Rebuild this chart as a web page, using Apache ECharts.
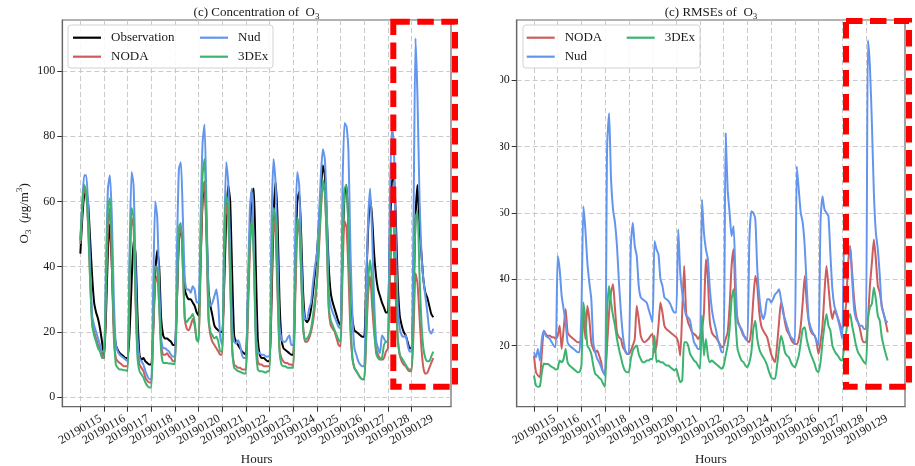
<!DOCTYPE html>
<html><head><meta charset="utf-8">
<script src="https://cdn.jsdelivr.net/npm/echarts@6/dist/echarts.min.js"></script>
<style>html,body{margin:0;padding:0;background:#fff}#c{width:915px;height:466px}</style>
</head><body><div id="c"></div>
<script>
// ---------- data (2-hourly samples, hour 0 = 2019-01-15 00h) ----------
const dayLabels = ['20190115','20190116','20190117','20190118','20190119','20190120','20190121','20190122','20190123','20190124','20190125','20190126','20190127','20190128','20190129'];
const hours = Array.from({length: 180}, (_, i) => i * 2);
const yTicksConc = [0, 20, 40, 60, 80, 100];
const yTicksRmse = [20, 40, 60, 80, 100];

// Concentration of O3
const obsConc = [
44,55,62,63,59,48,37,29,26,24,21,17,
12,25,45,53,40,22,16,14.5,13.5,13,12.5,12,
12,20,35,48,44,25,13,11.5,12,11,10.5,10,
10,22,38,45,40,24,19,18,18,17.5,17,16,
16,30,48,52,45,33,31,30,30,29,28,26,
25,42,60,66,52,33,28,25,22,21,20.5,20,
20,35,55,65,60,38,19,17,16,15,14,13.5,
13,30,50,63,64,40,18,13,12,12,11.5,11,
11,30,55,66,55,30,18,15,14.5,14,13.5,13,
13,35,60,63,50,32,24,23,24,27,32,38,
44,53,63,71,68,55,40,32,29,27,25,23,
22,45,62,65,52,32,24,20.5,20,19.5,19,18.5,
18.5,35,52,61,55,44,37,33,31,29,27.5,26,
26,50,66,68,55,35,25,22,20,19,17,15,
15,32,55,65,52,44,36,32,30.5,28,25.5,24.5];
const nodaConc = [
47,58,64,62,52,36,23,20,18,16,15,13,
12,30,52,58,40,18,12,11,10.5,10,9.5,9.5,
9.5,35,55,52,30,14,10,9,8,6,5,4.5,
4.5,20,35,37,28,16,13,13,13.5,12.5,12,11,
11,30,50,52,40,24,21,20.5,22,24,22,18,
17,40,62,66,48,24,19,17,16,15,14,13,
13,40,59,55,35,15,10,9.5,9,9,8.5,8.5,
8.5,25,45,55,45,20,11,10,10,9.5,9.5,9.5,
9.5,35,54,50,32,15,12,11,10.5,10.5,10,10,
9.5,30,50,53,38,22,17,17,18,20,23,28,
35,45,57,65,63,48,27,22,21,20,18,16,
15.5,38,54,52,38,20,12,9,8,7,6,5.5,
5.5,18,32,37,28,20,15,13,12,11.5,12,14,
15,35,48,45,30,18,13,11,10,9.5,8.5,8,
8,20,38,35,25,15,9,7.2,7.5,9,10.5,12];
const nudConc = [
48,60,68,68,58,40,25,22,20,18,16,14,
14,40,64,68,55,30,16,14,13,12.5,12,11.5,
11,45,69,65,40,18,12,11,10,8,6.5,5.5,
5.5,35,60,55,35,18,15,15,14.5,14,13,12.5,
12.5,45,70,72,55,36,33,33,32,34,33,29,
29,55,78,83.6,58,32,28,29,31,33,28,18,
16,50,72,66,45,22,17,16.5,17.5,16,13,12,
12,35,58,64,45,20,14,13.5,13,13,12.5,12.5,
12.5,55,73,66,45,22,18,17,17,18,19,16,
16,50,69,65,45,28,24,24,27,29,35,40,
44,55,68,76,73,58,32,28,26,24.5,23,21.5,
21,65,84,83,75,45,25,15,13,11,10,9.5,
9.5,35,55,64,50,30,17.5,15,13.5,19,18,17,
17,60,83,78,50,28,21,19,18.5,19,16,14,
14,55,110,92,62,44,36,31,26,20.5,19.5,21];
const dexConc = [
48,59,65,63,52,35,22,19,17,15,14,12,
12,35,58,61,45,20,10,9,8.5,8.5,8.3,8.3,
8,40,58,55,30,12,8,7,6,4.5,3.5,3,
3,22,40,40,28,14,10.5,10.5,10.5,10.3,10.3,10.2,
10.2,30,52,53.5,40,24,23,24,24.5,25.5,23,17.5,
17,45,68,73,52,25,20,19,18,18.5,17,14,
14,50,62,58,38,15,9,8.5,8,7.8,7.5,7.3,
7.3,30,48,54,42,16,8.5,8,8,7.8,7.5,8,
8,40,58,55,35,14,10,9.5,9.5,9,9,9,
9,35,55,53,38,21,17.5,18,19,21,25,30,
36,47,59,66.5,63,48,28,23.5,22,20.5,19,17.5,
17,45,64,65,50,25,12,9,8,7,6,5.5,
5.5,20,36,42,35,22,13.5,12,11.5,12,16,17,
17,40,55,52,35,18,13,12,11,10,9,8.5,
8.5,25,55,57,38,23,15,12,11,11,12.5,14];

// RMSEs of O3
const nodaRmse = [
17,12,11,10.5,18,24.5,23.5,23,23,22.5,22.5,22,
23,26,19,25,31,24,23,22.5,22,21.5,21,21,
21,30,22,32,28,21,19,18,18.5,17,15,12,
12,20,30,36,38.5,31,24,22.5,22,19.5,18.5,17.5,
17.5,18.5,20,22,32,28,23,21.5,21,21.5,22,23,
23.5,18,20,26,33,30,26,25,24.5,24,23.5,23,
22.5,21,17,30,44,30,27,25.5,24,23.5,23,22,
23,25,30,46,40,27,24,23,22.5,21.5,20.5,19.5,
20,22,24,32,44,49,33,28,26,24.5,23,22.5,
21.5,21,25,34,41,38,30,26,24.5,23.5,22.5,20,
17.5,16,15,20,27,33,31,27,24.5,23.5,22,21,
20.5,20.5,22,26,33,41,33,27.5,24.5,23.5,23,21,
17.5,21,26,36,44,38,31.5,28,30.5,29.5,28,26,
25,28,33,45,50,42,34,29,27,25,22,21,
21,28,38,45,52,46,38,36,32,29.5,27,24];
const nudRmse = [
18,16.5,19,15.5,22,24.5,23,22.5,22,21,20,19.5,
47,43,35,31,27,21,20,19.5,19,18.5,18,18,
30,62,55,45,39,34,21,18,16,15,13.5,12,
11,80,90,70,61,57,50,39,30,23,19,17.6,
17.6,50,57,50,47,38,34.5,34,33.5,33,31,29,
27,51.5,49,47.5,40,38,34.5,34,33.5,32.5,31,30,
30,55,42,36,32,29,28.5,27.5,24,21,20,19,
19,64,54,49,46,37,31,27.5,25,22,20,18,
18,84,67,60,53,56,40,27,26,25,23.5,22,
21.5,52,60.5,60,58,43,35,30,28,30,34,34,
33,34,35.5,36,37,34,30,28,26,24,22.5,22,
20.5,74,67,60,57,50,38,28,25.5,24,23,21.5,
20,57.6,65,61,60,59,47.5,37,32,30,27.5,25,
22,52,51,50,49,40,31,28,27,26,26,25,
25,112,104,87,66,54,49,41,31.5,29.5,27.5,27];
const dexRmse = [
11,8,7.6,7.8,12,14.6,14.5,14.5,14,13.6,13.3,12.8,
13,15.5,15,16,19,15,14,13.5,13,12.5,12,12,
14,33,28,20,19,17.5,14,11.5,11,10.3,9.8,8.5,
7.6,30,38,33,29,26,22,19,16.5,14,12.5,12,
12,16,18.5,19.5,20,17.5,16,15,15,15.5,15.5,16,
16,23,15,15.5,15,15,14.5,14,14,13.5,13,12.5,
13,11,9,9.5,21,21,20,17.5,16.5,15.5,15,14,
13,29,17,22,17,15,15.5,15,14.5,14,13.5,13,
14,17,20,25,34,37,27,19,17,15.5,15,14,
13.5,15,18,25,27.5,22,19,17.5,16.5,15.5,14,12,
10.5,10,10,14,19,23,21,18,17,16.5,15,14,
13.5,15,17,21,25,25.5,22,19.5,17.5,16,14.5,12.5,
12,15,21,26,29.5,26,24.5,20,18.5,17.5,16.8,15.8,
15.5,20,24,28,29.5,26,23,20,18,17,16,15,
14.5,28,31.5,32.6,37.5,34,29,27.5,22.6,19.8,17.5,15.5];

// ---------- styling ----------
const FONT = "'Liberation Serif','Times New Roman',serif";
const TXT = '#1a1a1a';
const COL = {obs:'#000000', noda:'#CD5C5C', nud:'#6495ED', dex:'#3CB371'};
const tickHours = dayLabels.map((_, i) => i * 24);
const toPairs = arr => arr.map((v, i) => [hours[i], v]);
const gridLine = {show:true, lineStyle:{color:'#c4c4c4', type:[5,3], width:0.9}};

function xAxis(gi, min, max) {
  return {
    type:'value', gridIndex:gi, min, max,
    axisLine:{show:true, onZero:false, lineStyle:{color:'#666', width:1.2}},
    axisTick:{show:true, customValues:tickHours, length:5, lineStyle:{color:'#333'}},
    axisLabel:{customValues:tickHours, formatter:v => dayLabels[Math.round(v/24)],
      rotate:30, align:'center', verticalAlign:'middle', margin:23,
      fontFamily:FONT, fontSize:12, color:TXT},
    splitLine:Object.assign({}, gridLine),
    name:'Hours', nameLocation:'middle', nameGap:42,
    nameTextStyle:{fontFamily:FONT, fontSize:13, color:TXT}
  };
}
function yAxis(gi, min, max, ticks, name) {
  const ax = {
    type:'value', gridIndex:gi, min, max,
    axisLine:{show:true, onZero:false, lineStyle:{color:'#666', width:1.2}},
    axisTick:{show:true, customValues:ticks, length:5, lineStyle:{color:'#333'}},
    axisLabel:{customValues:ticks, margin:7, fontFamily:FONT, fontSize:12, color:TXT},
    splitLine:Object.assign({}, gridLine)
  };
  if (name) {
    ax.name = name; ax.nameLocation = 'middle'; ax.nameGap = 26; ax.nameRotate = 90;
    ax.nameTextStyle = {rich:{
      a:{fontFamily:FONT, fontSize:13, color:TXT, lineHeight:18},
      i:{fontFamily:FONT, fontSize:13, color:TXT, lineHeight:18, fontStyle:'italic'},
      s:{fontFamily:FONT, fontSize:9, color:TXT, lineHeight:10, verticalAlign:'bottom'},
      p:{fontFamily:FONT, fontSize:9, color:TXT, lineHeight:10, verticalAlign:'top'}
    }};
  }
  return ax;
}
function line(name, arr, color, idx) {
  return {type:'line', name, data:toPairs(arr), xAxisIndex:idx, yAxisIndex:idx,
    showSymbol:false, symbol:'none', smooth:0.2, lineStyle:{color, width:2}, itemStyle:{color},
    emphasis:{disabled:true}, animation:false};
}
function legend(names, left) {
  return {data:names, orient:'vertical', left, top:30.7, padding:0, itemGap:5,
    itemWidth:28, itemHeight:2.2, icon:'rect', selectedMode:false, z:10,
    textStyle:{fontFamily:FONT, fontSize:13, color:TXT, lineHeight:14, padding:[0,0,0,5]}};
}
const titleRich = {
  a:{fontFamily:FONT, fontSize:13, fontWeight:'normal', color:TXT, lineHeight:18},
  s:{fontFamily:FONT, fontSize:9, fontWeight:'normal', color:TXT, lineHeight:10, verticalAlign:'bottom'}
};

const chart = echarts.init(document.getElementById('c'), null, {renderer:'canvas'});
chart.setOption({
  animation:false,
  backgroundColor:'#ffffff',
  title:[
    {text:'{a|(c) Concentration of  O}{s|3}', left:256.5, top:3.5, padding:0, textAlign:'center', textVerticalAlign:'top', textStyle:{fontWeight:'normal', rich:titleRich}},
    {text:'{a|(c) RMSEs of  O}{s|3}', left:711, top:3.5, padding:0, textAlign:'center', textVerticalAlign:'top', textStyle:{fontWeight:'normal', rich:titleRich}}
  ],
  grid:[
    {left:62.3, top:20, width:388.7, height:386.7, show:true, borderColor:'#666', borderWidth:1.2, outerBoundsMode:'none'},
    {left:516.7, top:20, width:388.3, height:386.7, show:true, borderColor:'#666', borderWidth:1.2, outerBoundsMode:'none'}
  ],
  xAxis:[ xAxis(0, -18.3, 376), xAxis(1, -17.5, 375.5) ],
  yAxis:[
    yAxis(0, -2.9, 115.6, yTicksConc, '{a|O}{s|3}{a|  (}{i|μ}{a|g/m}{p|3}{a|)}'),
    yAxis(1, 1.6, 118.1, yTicksRmse, null)
  ],
  legend:[
    legend(['Observation','NODA'], 73),
    legend(['Nud','3DEx'], 200),
    legend(['NODA','Nud'], 526.7),
    legend(['3DEx'], 626.7)
  ],
  series:[
    line('Observation', obsConc, COL.obs, 0),
    line('NODA', nodaConc, COL.noda, 0),
    line('Nud', nudConc, COL.nud, 0),
    line('3DEx', dexConc, COL.dex, 0),
    line('NODA', nodaRmse, COL.noda, 1),
    line('Nud', nudRmse, COL.nud, 1),
    line('3DEx', dexRmse, COL.dex, 1)
  ],
  graphic:[
    {type:'rect', z:5, shape:{x:68, y:25, width:205, height:43, r:3}, style:{fill:'rgba(255,255,255,0.85)', stroke:'#d2d2d2', lineWidth:1}},
    {type:'rect', z:5, shape:{x:523, y:25, width:177, height:43, r:3}, style:{fill:'rgba(255,255,255,0.85)', stroke:'#d2d2d2', lineWidth:1}},
    {type:'rect', z:50, shape:{x:393.3, y:21.7, width:61.7, height:365}, style:{fill:'none', stroke:'#ff0000', lineWidth:6, lineDash:[16.5,7.5]}},
    {type:'rect', z:50, shape:{x:846, y:21, width:63, height:365.7}, style:{fill:'none', stroke:'#ff0000', lineWidth:6, lineDash:[16.5,7.5]}},
    {type:'rect', z:60, shape:{x:459.5, y:55, width:40.5, height:310}, style:{fill:'#ffffff'}}
  ]
});
</script></body></html>
